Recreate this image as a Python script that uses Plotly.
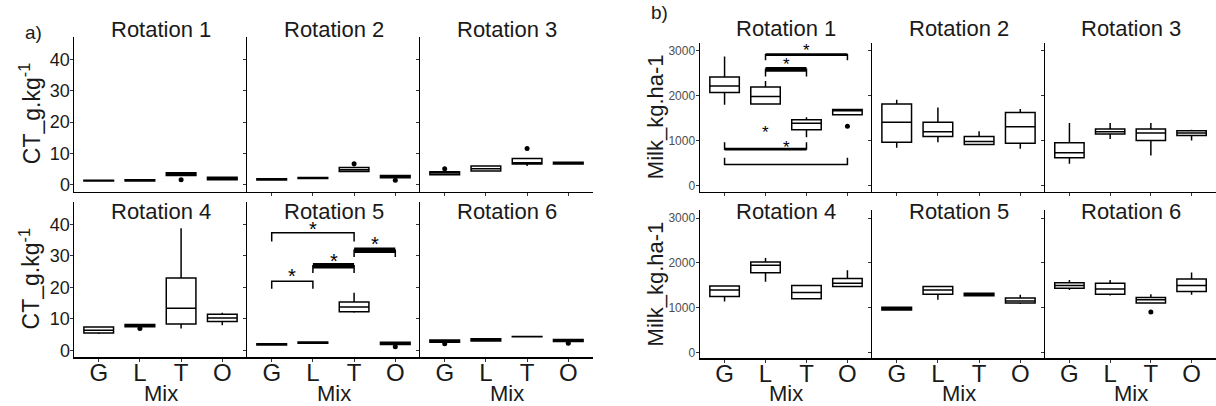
import plotly.graph_objects as go

MIX = ["G", "L", "T", "O"]
MIX_POS = [1, 2, 3, 4]
ROTATIONS = ["Rotation 1", "Rotation 2", "Rotation 3", "Rotation 4", "Rotation 5", "Rotation 6"]

# ---------------- CT (g/kg) box statistics, one row per rotation, order G L T O
ct_lower = [
    [1.1, 1.0, 2.8, 1.5],
    [1.4, 1.9, 4.0, 2.1],
    [3.1, 4.2, 6.0, 6.4],
    [5.2, 7.3, 7.0, 8.0],
    [1.6, 2.2, 12.0, 1.8],
    [2.5, 2.9, 4.3, 2.7],
]
ct_q1 = [
    [1.2, 1.15, 2.9, 1.6],
    [1.5, 2.0, 4.2, 2.2],
    [3.2, 4.4, 6.6, 6.6],
    [5.5, 7.5, 8.4, 9.2],
    [1.7, 2.3, 12.3, 1.9],
    [2.6, 3.0, 4.35, 2.8],
]
ct_median = [
    [1.3, 1.35, 3.3, 2.0],
    [1.7, 2.1, 4.8, 2.6],
    [3.7, 5.1, 7.0, 6.9],
    [6.4, 7.8, 13.4, 10.3],
    [1.9, 2.5, 13.8, 2.3],
    [2.9, 3.3, 4.4, 3.1],
]
ct_q3 = [
    [1.45, 1.6, 3.8, 2.4],
    [1.9, 2.3, 5.5, 2.9],
    [4.1, 6.0, 8.4, 7.2],
    [7.4, 8.2, 23.0, 11.5],
    [2.1, 2.7, 15.4, 2.6],
    [3.3, 3.7, 4.45, 3.5],
]
ct_upper = [
    [1.5, 1.7, 4.0, 2.6],
    [2.0, 2.4, 5.8, 3.0],
    [4.3, 6.1, 8.6, 7.3],
    [7.6, 8.3, 38.8, 12.0],
    [2.2, 2.8, 18.3, 2.7],
    [3.4, 3.8, 4.5, 3.6],
]
ct_out_rot = [1, 2, 2, 3, 3, 4, 5, 6, 6]
ct_out_mix = ["T", "T", "O", "G", "T", "L", "O", "G", "O"]
ct_out_val = [1.6, 6.7, 1.4, 5.1, 11.6, 7.0, 1.2, 2.1, 2.3]

ct_sig_rot = [5, 5, 5, 5]
ct_sig_from = ["G", "G", "L", "T"]
ct_sig_to = ["T", "L", "T", "O"]
ct_sig_bar = [37.4, 22.0, 26.9, 31.8]
ct_sig_tip = [34.6, 19.6, 24.6, 29.7]
ct_sig_weight = [1.5, 1.5, 5.5, 5.5]
ct_star_y = [39.3, 24.3, 29.1, 34.3]

# ---------------- Milk (kg/ha) box statistics
milk_lower = [
    [1794, 1800, 1074, 1570],
    [838, 964, 900, 816],
    [485, 1037, 669, 1000],
    [1140, 1581, 1198, 1470],
    [941, 1176, 1250, 1080],
    [1397, 1272, 1103, 1287],
]
milk_q1 = [
    [2067, 1809, 1242, 1570],
    [964, 1088, 911, 941],
    [620, 1147, 1000, 1110],
    [1250, 1780, 1198, 1470],
    [950, 1301, 1265, 1103],
    [1434, 1301, 1103, 1360],
]
milk_median = [
    [2213, 1978, 1383, 1660],
    [1405, 1198, 978, 1308],
    [728, 1198, 1169, 1169],
    [1397, 1948, 1338, 1544],
    [978, 1397, 1294, 1147],
    [1493, 1419, 1176, 1493],
]
milk_q3 = [
    [2412, 2191, 1463, 1690],
    [1809, 1405, 1088, 1625],
    [949, 1257, 1257, 1220],
    [1485, 2022, 1493, 1654],
    [1010, 1470, 1323, 1213],
    [1559, 1544, 1228, 1640],
]
milk_upper = [
    [2868, 2323, 1515, 1700],
    [1904, 1736, 1206, 1699],
    [1390, 1390, 1390, 1240],
    [1485, 2110, 1500, 1838],
    [1015, 1485, 1330, 1287],
    [1617, 1617, 1301, 1787],
]
milk_out_rot = [1, 6]
milk_out_mix = ["O", "T"]
milk_out_val = [1317, 904]

milk_sig_rot = [1, 1, 1, 1]
milk_sig_from = ["L", "L", "G", "G"]
milk_sig_to = ["O", "T", "T", "O"]
milk_sig_bar = [2906, 2581, 810, 470]
milk_sig_tip = [2780, 2420, 964, 618]
milk_sig_weight = [2.7, 4.7, 2.7, 1.5]
milk_star_y = [3044, 2742, 1220, 889]

CT_TICKS = [0, 10, 20, 30, 40]
MILK_TICKS = [0, 1000, 2000, 3000]

# ---------------- layout geometry (pixels)
W, H = 1216, 406
FONT = "Liberation Sans, Arial, sans-serif"
TXT = "#1a1a1a"


def fx(x):
    return x / W


def fy(y):
    return 1 - y / H


A_COLS = [(74, 247), (247, 420), (420, 593)]
A_ROWS = [(37, 193), (203, 360)]
B_COLS = [(700, 872), (872, 1045), (1045, 1216)]
B_ROWS = [(43, 193), (212, 361)]

datasets = [
    dict(name="ct", cols=A_COLS, rows=A_ROWS, yrange=[-2.2, 47.3], ticks=CT_TICKS,
         tickfont=dict(size=18, color=TXT, family=FONT), ystand=-4,
         lo=ct_lower, q1=ct_q1, med=ct_median, q3=ct_q3, hi=ct_upper,
         out=(ct_out_rot, ct_out_mix, ct_out_val),
         sig=(ct_sig_rot, ct_sig_from, ct_sig_to, ct_sig_bar, ct_sig_tip, ct_sig_weight, ct_star_y),
         star_size=20, strip_y=[30, 213], mix_y=396),
    dict(name="milk", cols=B_COLS, rows=B_ROWS, yrange=[-132, 3172], ticks=MILK_TICKS,
         tickfont=dict(size=12, color="#4d4d4d", family=FONT), ystand=-2,
         lo=milk_lower, q1=milk_q1, med=milk_median, q3=milk_q3, hi=milk_upper,
         out=(milk_out_rot, milk_out_mix, milk_out_val),
         sig=(milk_sig_rot, milk_sig_from, milk_sig_to, milk_sig_bar, milk_sig_tip, milk_sig_weight, milk_star_y),
         star_size=17, strip_y=[29, 213], mix_y=396),
]

fig = go.Figure()
layout = dict(
    width=W, height=H, autosize=False,
    margin=dict(l=0, r=0, t=0, b=0, pad=0),
    paper_bgcolor="white", plot_bgcolor="white",
    showlegend=False, boxmode="overlay",
    font=dict(family=FONT, color=TXT),
)
annotations = []

k = 0
for ds in datasets:
    for r in range(6):
        k += 1
        row, col = divmod(r, 3)
        x0, x1 = ds["cols"][col]
        y0, y1 = ds["rows"][row]
        xn = "xaxis" if k == 1 else f"xaxis{k}"
        yn = "yaxis" if k == 1 else f"yaxis{k}"
        xr = "x" if k == 1 else f"x{k}"
        yr = "y" if k == 1 else f"y{k}"
        layout[xn] = dict(
            domain=[fx(x0), fx(x1)], range=[0.4, 4.6], anchor=yr,
            tickmode="array", tickvals=MIX_POS, ticktext=MIX,
            showticklabels=(row == 1), ticklabelstandoff=-10,
            tickfont=dict(size=24, color=TXT, family=FONT),
            showline=True, linecolor="black", linewidth=1.5,
            ticks=("" if k == 1 else "outside"), ticklen=3, tickwidth=1, tickcolor="#333333",
            showgrid=False, zeroline=False, fixedrange=True,
        )
        layout[yn] = dict(
            domain=[fy(y1), fy(y0)], range=ds["yrange"], anchor=xr,
            tickmode="array", tickvals=ds["ticks"],
            showticklabels=(col == 0), tickfont=ds["tickfont"],
            ticklabelstandoff=ds["ystand"],
            showline=True, linecolor="black", linewidth=1.5,
            ticks="outside", ticklen=3, tickwidth=1, tickcolor="#333333",
            showgrid=False, zeroline=False, fixedrange=True,
        )
        # boxes
        fig.add_trace(go.Box(
            x=MIX_POS, q1=ds["q1"][r], median=ds["med"][r], q3=ds["q3"][r],
            lowerfence=ds["lo"][r], upperfence=ds["hi"][r],
            width=0.72, whiskerwidth=0, fillcolor="white",
            line=dict(color="black", width=1.5), boxpoints=False,
            xaxis=xr, yaxis=yr, hoverinfo="skip", showlegend=False,
        ))
        # outliers
        orot, omix, oval = ds["out"]
        ox = [MIX.index(m) + 1 for rr, m in zip(orot, omix) if rr == r + 1]
        oy = [v for rr, v in zip(orot, oval) if rr == r + 1]
        if ox:
            fig.add_trace(go.Scatter(
                x=ox, y=oy, mode="markers",
                marker=dict(color="black", size=5),
                xaxis=xr, yaxis=yr, hoverinfo="skip", showlegend=False,
            ))
        # significance brackets
        srot, sfrom, sto, sbar, stip, sw, sstar = ds["sig"]
        for i in range(len(srot)):
            if srot[i] != r + 1:
                continue
            a = MIX.index(sfrom[i]) + 1
            b = MIX.index(sto[i]) + 1
            fig.add_trace(go.Scatter(
                x=[a, a, b, b], y=[stip[i], sbar[i], sbar[i], stip[i]],
                mode="lines", line=dict(color="black", width=1.5),
                xaxis=xr, yaxis=yr, hoverinfo="skip", showlegend=False,
            ))
            if sw[i] > 1.5:
                fig.add_trace(go.Scatter(
                    x=[a, b], y=[sbar[i], sbar[i]],
                    mode="lines", line=dict(color="black", width=sw[i]),
                    xaxis=xr, yaxis=yr, hoverinfo="skip", showlegend=False,
                ))
            annotations.append(dict(
                x=(a + b) / 2, y=sstar[i], xref=xr, yref=yr, text="*",
                showarrow=False, xanchor="center", yanchor="middle", yshift=-2,
                font=dict(size=ds["star_size"], color="black", family=FONT),
            ))
        # strip title
        annotations.append(dict(
            x=fx((x0 + x1) / 2), y=fy(ds["strip_y"][row]), xref="paper", yref="paper",
            text=ROTATIONS[r], showarrow=False, xanchor="center", yanchor="middle",
            font=dict(size=22, color=TXT, family=FONT),
        ))
        if row == 1:
            annotations.append(dict(
                x=fx((x0 + x1) / 2), y=fy(ds["mix_y"]), xref="paper", yref="paper",
                text="Mix", showarrow=False, xanchor="center", yanchor="middle",
                font=dict(size=22, color=TXT, family=FONT),
            ))

# y-axis titles
for ry in A_ROWS:
    annotations.append(dict(
        x=fx(30), y=fy((ry[0] + ry[1]) / 2), xref="paper", yref="paper",
        text="CT_g.kg<sup>-1</sup>", textangle=-90, showarrow=False,
        xanchor="center", yanchor="middle",
        font=dict(size=23, color=TXT, family=FONT),
    ))
for ry in B_ROWS:
    annotations.append(dict(
        x=fx(655), y=fy((ry[0] + ry[1]) / 2), xref="paper", yref="paper",
        text="Milk_kg.ha-1", textangle=-90, showarrow=False,
        xanchor="center", yanchor="middle",
        font=dict(size=22, color=TXT, family=FONT),
    ))

annotations.append(dict(x=fx(33), y=fy(33), xref="paper", yref="paper", text="a)",
                        showarrow=False, xanchor="center", yanchor="middle",
                        font=dict(size=19, color=TXT, family=FONT)))
annotations.append(dict(x=fx(659), y=fy(13), xref="paper", yref="paper", text="b)",
                        showarrow=False, xanchor="center", yanchor="middle",
                        font=dict(size=19, color=TXT, family=FONT)))

layout["annotations"] = annotations
fig.update_layout(**layout)
fig.write_html(
    "out.html",
    config={"displayModeBar": False, "staticPlot": True},
    post_script="document.body.style.margin='0';document.body.style.overflow='hidden';",
)
